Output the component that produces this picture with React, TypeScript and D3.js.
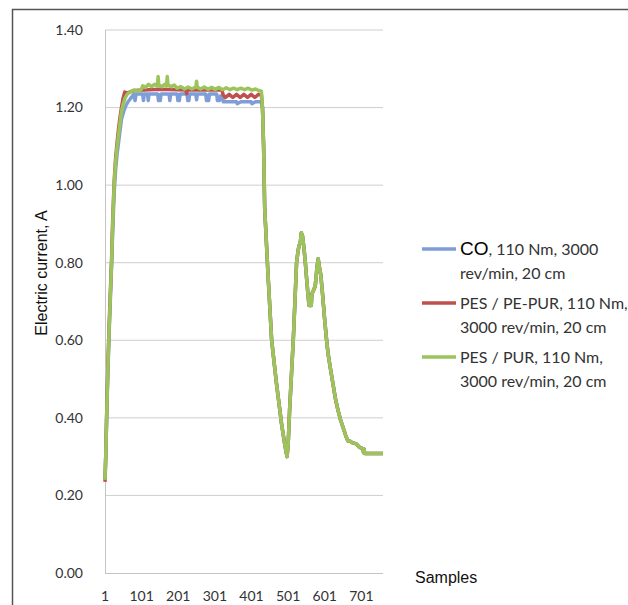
import React from 'react'
import * as d3 from 'd3'

const width = 628
const height = 605

const yTicks = [0, 0.2, 0.4, 0.6, 0.8, 1.0, 1.2, 1.4]
const xTicks = [1, 101, 201, 301, 401, 501, 601, 701]

// shared fall-off after the plateau (all three runs overlap here)
const tailPoints: [number, number][] = [
  [431, 1.2], [434, 1.1], [437, 0.94], [446, 0.77], [456, 0.6], [469, 0.49],
  [483, 0.385], [492, 0.33], [498, 0.3], [501, 0.33], [505, 0.42], [510, 0.51],
  [515, 0.6], [520, 0.71], [524, 0.8], [528, 0.83], [531, 0.845], [534, 0.85],
  [537, 0.877], [540, 0.87], [544, 0.84], [548, 0.8], [551, 0.764], [555, 0.72],
  [558, 0.69], [564, 0.69], [566, 0.72], [571, 0.73], [575, 0.74], [580, 0.79],
  [583, 0.81], [586, 0.79], [590, 0.77], [594, 0.73], [601, 0.65], [606, 0.6],
  [610, 0.566], [616, 0.53], [623, 0.49], [630, 0.45], [637, 0.42], [644, 0.395],
  [651, 0.375], [658, 0.355], [664, 0.341], [670, 0.34], [676, 0.336], [687, 0.333],
  [695, 0.325], [705, 0.32], [707, 0.31], [708, 0.32], [710, 0.308], [760, 0.308],
]

const coPoints: [number, number][] = [
  [1, 0.24], [3, 0.3], [6, 0.42], [9, 0.52], [12, 0.61], [15, 0.69], [19, 0.79],
  [22, 0.88], [26, 0.98], [30, 1.04], [34, 1.08], [38, 1.11], [42, 1.14], [46, 1.17],
  [52, 1.19], [58, 1.205], [64, 1.215], [72, 1.225], [80, 1.235], [83, 1.218],
  [86, 1.235], [104, 1.235], [106, 1.218], [108, 1.235], [117, 1.235], [119, 1.218],
  [121, 1.235], [145, 1.235], [147, 1.218], [152, 1.218], [154, 1.235], [176, 1.235],
  [178, 1.218], [180, 1.235], [198, 1.235], [200, 1.218], [204, 1.218], [206, 1.235],
  [225, 1.235], [227, 1.218], [230, 1.218], [232, 1.235], [249, 1.235], [251, 1.22],
  [253, 1.235], [276, 1.235], [278, 1.218], [284, 1.218], [286, 1.235], [306, 1.235],
  [308, 1.218], [314, 1.218], [316, 1.23], [322, 1.23], [324, 1.215], [360, 1.215],
  [362, 1.21], [372, 1.215], [400, 1.215], [402, 1.21], [412, 1.215], [428, 1.215],
  ...tailPoints,
]

const pePurPoints: [number, number][] = [
  [1, 0.235], [3, 0.3], [6, 0.43], [9, 0.54], [12, 0.63], [15, 0.71], [19, 0.81],
  [22, 0.91], [26, 1.01], [30, 1.07], [34, 1.11], [38, 1.145], [42, 1.175], [46, 1.2],
  [50, 1.222], [55, 1.24], [62, 1.238], [80, 1.244], [150, 1.247], [222, 1.245],
  [224, 1.236], [226, 1.245], [320, 1.245], [324, 1.232], [330, 1.226], [340, 1.234],
  [350, 1.226], [360, 1.234], [370, 1.226], [380, 1.234], [390, 1.226], [400, 1.234],
  [410, 1.226], [420, 1.234], [428, 1.232],
  ...tailPoints,
]

const purPoints: [number, number][] = [
  [1, 0.24], [3, 0.3], [6, 0.42], [9, 0.53], [12, 0.62], [15, 0.7], [19, 0.8],
  [22, 0.9], [26, 1.0], [30, 1.06], [34, 1.1], [38, 1.13], [42, 1.16], [46, 1.19],
  [51, 1.21], [56, 1.225], [62, 1.235], [70, 1.24], [80, 1.245], [92, 1.242],
  [100, 1.246], [104, 1.256], [112, 1.252], [120, 1.26], [128, 1.254], [136, 1.26],
  [144, 1.256], [146, 1.28], [148, 1.258], [156, 1.254], [164, 1.26], [169, 1.256],
  [171, 1.28], [173, 1.258], [182, 1.254], [190, 1.258], [198, 1.25], [208, 1.254],
  [218, 1.248], [228, 1.253], [238, 1.248], [249, 1.253], [251, 1.268], [253, 1.252],
  [262, 1.248], [272, 1.253], [282, 1.247], [292, 1.252], [302, 1.247], [312, 1.252],
  [322, 1.246], [332, 1.251], [342, 1.246], [352, 1.25], [362, 1.246], [372, 1.25],
  [382, 1.246], [392, 1.25], [402, 1.245], [412, 1.248], [420, 1.244], [428, 1.242],
  ...tailPoints,
]

const series = [
  { name: 'CO', rest: ', 110 Nm, 3000', line2: 'rev/min, 20 cm', color: '#7f9dd6', points: coPoints },
  { name: '', rest: 'PES / PE-PUR, 110 Nm,', line2: '3000 rev/min, 20 cm', color: '#c0504d', points: pePurPoints },
  { name: '', rest: 'PES / PUR, 110 Nm,', line2: '3000 rev/min, 20 cm', color: '#9bc55b', points: purPoints },
]

const tickFont = 'Lato, "Open Sans", sans-serif'
const arial = '"Liberation Sans", Arial, sans-serif'

export default function App() {
  const x = d3.scaleLinear().domain([1, 760]).range([105, 383])
  const y = d3.scaleLinear().domain([0, 1.4]).range([573, 30])

  const line = d3
    .line<[number, number]>()
    .x(d => x(d[0]))
    .y(d => y(d[1]))

  return (
    <svg
      width={width}
      height={height}
      style={{ position: 'absolute', left: 0, top: 0, background: '#fff' }}
    >
      <path d="M12.5,605 L12.5,9.5 L628,9.5" fill="none" stroke="#555" strokeWidth={1.5} />

      {yTicks.map(t => (
        <g key={t}>
          {t > 0 && (
            <line x1={105} x2={383} y1={y(t)} y2={y(t)} stroke="#cfcfcf" strokeWidth={1} />
          )}
          <text
            x={83}
            y={y(t)}
            dy="0.35em"
            textAnchor="end"
            fontSize={14}
            fontFamily={tickFont}
            fill="#333"
          >
            {t.toFixed(2)}
          </text>
        </g>
      ))}

      <line x1={105.5} x2={105.5} y1={30} y2={573} stroke="#c4c4c4" />
      <line x1={105} x2={383} y1={573.5} y2={573.5} stroke="#c4c4c4" />

      {xTicks.map(t => (
        <text
          key={t}
          x={x(t)}
          y={601}
          textAnchor="middle"
          fontSize={14}
          fontFamily={tickFont}
          fill="#333"
        >
          {t}
        </text>
      ))}

      {series.map(s => (
        <path
          key={s.color}
          d={line(s.points) || ''}
          fill="none"
          stroke={s.color}
          strokeWidth={3.5}
          strokeLinejoin="round"
        />
      ))}

      <text
        transform="translate(47,273) rotate(-90)"
        textAnchor="middle"
        fontSize={16}
        fontFamily={arial}
        fill="#111"
      >
        Electric current, A
      </text>

      <text x={415} y={583} fontSize={16} fontFamily={arial} fill="#111">
        Samples
      </text>

      {series.map((s, i) => {
        const ly = 249 + i * 54
        return (
          <g key={'lg' + i}>
            <line x1={422} x2={456} y1={ly} y2={ly} stroke={s.color} strokeWidth={3.5} />
            <text x={460} y={ly} dy="0.35em" fontSize={16} fontFamily={tickFont} fill="#333">
              {s.name && (
                <tspan fontFamily={arial} fontSize={19} fill="#000">
                  {s.name}
                </tspan>
              )}
              {s.rest}
            </text>
            <text x={460} y={ly + 24} dy="0.35em" fontSize={16} fontFamily={tickFont} fill="#333">
              {s.line2}
            </text>
          </g>
        )
      })}
    </svg>
  )
}
